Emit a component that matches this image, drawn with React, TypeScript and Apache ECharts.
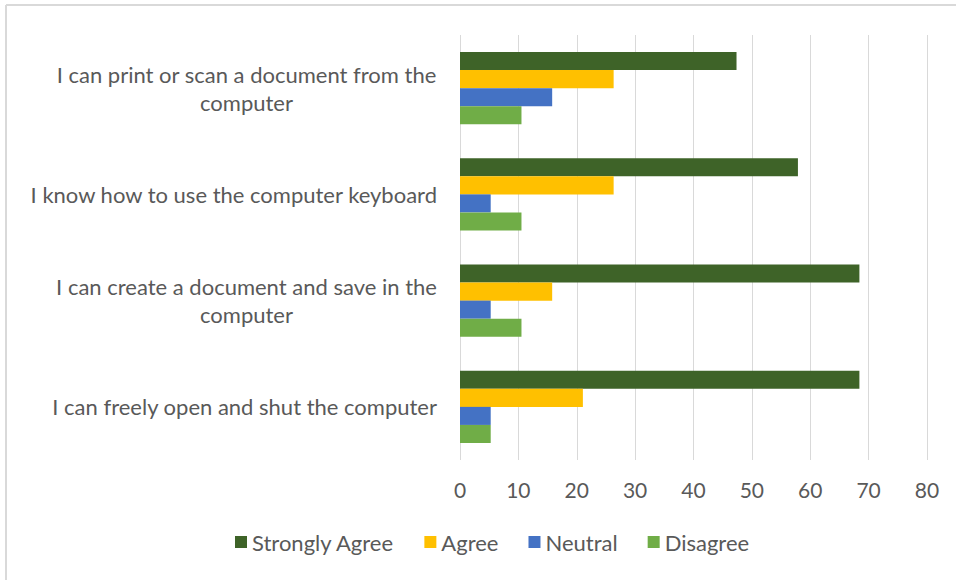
import React, { useEffect, useRef } from "react";
import * as echarts from "echarts";

// categories listed bottom to top
const categories = [
  "I can freely open and shut the computer",
  "I can create a document and save in the\ncomputer",
  "I know how to use the computer keyboard",
  "I can print or scan a document from the\ncomputer",
];
const legendOrder = ["Strongly Agree", "Agree", "Neutral", "Disagree"];
const stronglyAgree = [68.42, 68.42, 57.89, 47.37];
const agree = [21.05, 15.79, 26.32, 26.32];
const neutral = [5.26, 5.26, 5.26, 15.79];
const disagree = [5.26, 10.53, 10.53, 10.53];
const xTicks = [0, 10, 20, 30, 40, 50, 60, 70, 80];

const FONT = "Lato";
const FS = 22;
const TEXT = "#595959";

export default function App() {
  const ref = useRef<HTMLDivElement>(null);
  useEffect(() => {
    if (!ref.current) return;
    const chart = echarts.init(ref.current, null, { renderer: "svg" });
    const canvas = document.createElement("canvas");
    const ctx = canvas.getContext("2d")!;
    ctx.font = `${FS}px ${FONT}`;
    const widthOf = (v: string) =>
      Math.ceil(Math.max(...v.split("\n").map((l) => ctx.measureText(l).width)));
    const labelFormatter = (v: string) => {
      const lines = v.split("\n");
      if (lines.length === 1) return v;
      const w = widthOf(v);
      return lines.map((l) => `{c${w}|${l}}`).join("\n");
    };
    const rich: any = {};
    categories.forEach((c) => {
      if (c.includes("\n")) {
        const w = widthOf(c);
        rich["c" + w] = { width: w, align: "center", fontFamily: FONT, fontSize: FS, color: TEXT, lineHeight: 28 };
      }
    });
    const mk = (name: string, data: number[], color: string) => ({
      name,
      type: "bar",
      data,
      barGap: "0%",
      barCategoryGap: "32%",
      itemStyle: { color },
    });
    chart.setOption({
      animation: false,
      textStyle: { fontFamily: FONT },
      grid: { left: 460, right: 29, top: 35, bottom: 120 },
      legend: {
        data: legendOrder,
        bottom: 22,
        left: 230,
        itemWidth: 12,
        itemHeight: 12,
        itemGap: 30,
        icon: "rect",
        textStyle: { fontFamily: FONT, fontSize: FS, color: TEXT },
      },
      xAxis: {
        type: "value",
        min: xTicks[0],
        max: xTicks[xTicks.length - 1],
        interval: 10,
        axisLine: { show: false },
        axisTick: { show: false },
        splitLine: { lineStyle: { color: "#D9D9D9", width: 1 } },
        axisLabel: { fontFamily: FONT, fontSize: 21, color: TEXT, margin: 19 },
      },
      yAxis: {
        type: "category",
        data: categories,
        axisLine: { show: false },
        axisTick: { show: false },
        axisLabel: {
          fontFamily: FONT,
          fontSize: FS,
          color: TEXT,
          margin: 23,
          lineHeight: 28,
          formatter: labelFormatter,
          rich,
        },
      },
      graphic: [
        { type: "line", shape: { x1: 6, y1: 5, x2: 956, y2: 5 }, style: { stroke: "#D9D9D9", lineWidth: 2 } },
        { type: "line", shape: { x1: 6, y1: 5, x2: 6, y2: 580 }, style: { stroke: "#D9D9D9", lineWidth: 2 } },
      ],
      series: [
        mk("Strongly Agree", stronglyAgree, "#3E6328"),
        mk("Agree", agree, "#FFC000"),
        mk("Neutral", neutral, "#4472C4"),
        mk("Disagree", disagree, "#70AD47"),
      ],
    });
    return () => chart.dispose();
  }, []);
  return (
    <div style={{ position: "absolute", left: 0, top: 0, width: 956, height: 580, background: "#fff" }}>
      <div ref={ref} style={{ width: 956, height: 580 }} />
    </div>
  );
}
